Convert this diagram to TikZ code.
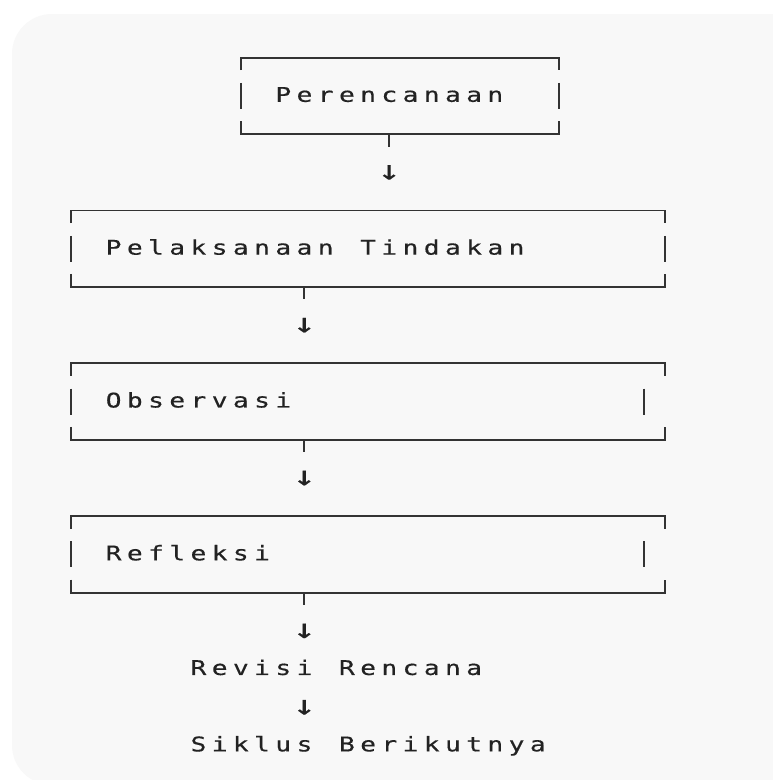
\documentclass[tikz,border=0pt]{standalone}
\usepackage{fontspec}
\newfontfamily\monofam{DejaVu Sans Mono}[FakeStretch=1.3, FakeBold=0.4]
\newfontfamily\arrowfam{DejaVu Sans Mono}[FakeStretch=1.4, FakeBold=0.5]
\definecolor{panelc}{HTML}{F8F8F8}
\definecolor{linec}{HTML}{333333}
\definecolor{txtc}{HTML}{222222}
\newlength\cw
\setlength\cw{21.21pt}
\def\mono#1{\monoloop#1\relax}
\def\monoloop#1{\ifx\relax#1\else\makebox[\cw][c]{#1}\expandafter\monoloop\fi}
\newcommand\asciifont{\monofam\fontsize{20.2}{24}\selectfont}
\newcommand\arrowfont{\arrowfam\fontsize{27}{32}\selectfont}
\tikzset{
  boxline/.style={draw=linec, line width=1.8pt, line cap=butt, line join=miter},
  sidebar/.style={draw=linec, line width=2.2pt, line cap=butt},
  txt/.style={inner sep=0pt, anchor=base west, text=txtc, font=\asciifont},
  arr/.style={inner sep=0pt, text=txtc, font=\arrowfont},
}
% #1 name, #2 left col, #3 right col (top/bottom), #4 right col of side bar, #5 top row, #6 stub col
\newcommand\abox[6]{%
  \pgfmathsetmacro\xa{71+21.21*#2}%
  \pgfmathsetmacro\xb{71+21.21*#3}%
  \pgfmathsetmacro\xr{71+21.21*#4}%
  \pgfmathsetmacro\xs{71+21.21*#6}%
  \pgfmathsetmacro\ya{57.7+38.21*#5}%
  \pgfmathsetmacro\yb{\ya+38.21}%
  \pgfmathsetmacro\yc{\ya+2*38.21}%
  \coordinate (#1-nw) at (\xa,\ya);
  \coordinate (#1-ne) at (\xb,\ya);
  \coordinate (#1-sw) at (\xa,\yc);
  \coordinate (#1-se) at (\xb,\yc);
  \coordinate (#1-s) at (\xs,\yc);
  \coordinate (#1-l) at (\xa,\yb);
  \coordinate (#1-r) at (\xr,\yb);
  \draw[boxline] ([yshift=-12.5pt]#1-nw) -- (#1-nw) -- (#1-ne) -- ([yshift=-12.5pt]#1-ne);
  \draw[boxline] ([yshift=13pt]#1-sw) -- (#1-sw) -- (#1-se) -- ([yshift=13pt]#1-se);
  \draw[sidebar] ([yshift=13pt]#1-l) -- ([yshift=-13pt]#1-l);
  \draw[sidebar] ([yshift=13pt]#1-r) -- ([yshift=-13pt]#1-r);
  \draw[sidebar] (#1-s) -- ([yshift=-12.5pt]#1-s);
}
\begin{document}
\begin{tikzpicture}[x=1pt,y=-1pt]
\useasboundingbox (0,0) rectangle (773,780);
\fill[white] (0,0) rectangle (773,780);
\fill[panelc, rounded corners=40pt] (12,14) rectangle (830,785);

\abox{b1}{8}{23}{23}{0}{15}
\abox{b2}{0}{28}{28}{4}{11}
\abox{b3}{0}{28}{27}{8}{11}
\abox{b4}{0}{28}{27}{12}{11}

\node[txt] (t1) at (60.4+21.21*10, 57.7+38.21*1+5.9) {\mono{Perencanaan}};
\node[txt] (t2) at (60.4+21.21*2, 57.7+38.21*5+5.9) {\mono{Pelaksanaan~Tindakan}};
\node[txt] (t3) at (60.4+21.21*2, 57.7+38.21*9+5.9) {\mono{Observasi}};
\node[txt] (t4) at (60.4+21.21*2, 57.7+38.21*13+5.9) {\mono{Refleksi}};
\node[txt] (t5) at (60.4+21.21*6, 57.7+38.21*16+5.9) {\mono{Revisi~Rencana}};
\node[txt] (t6) at (60.4+21.21*6, 57.7+38.21*18+5.9) {\mono{Siklus~Berikutnya}};

\node[arr] (a1) at (71+21.21*15, 57.7+38.21*3) {↓};
\node[arr] (a2) at (71+21.21*11, 57.7+38.21*7) {↓};
\node[arr] (a3) at (71+21.21*11, 57.7+38.21*11) {↓};
\node[arr] (a4) at (71+21.21*11, 57.7+38.21*15) {↓};
\node[arr] (a5) at (71+21.21*11, 57.7+38.21*17) {↓};
\end{tikzpicture}
\end{document}
